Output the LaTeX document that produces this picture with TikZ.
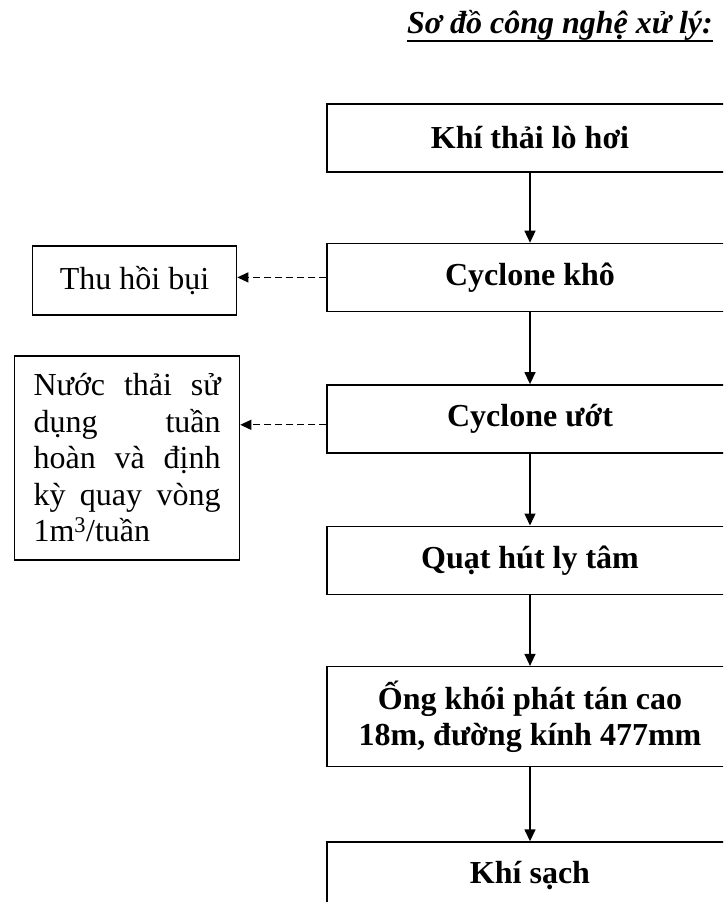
\documentclass[tikz,border=0pt]{standalone}
\usepackage{fontspec}
\setmainfont{Liberation Serif}
\usetikzlibrary{arrows.meta,positioning}

\begin{document}
\begin{tikzpicture}[x=1pt,y=1pt,
  font=\fontsize{32}{36.5}\selectfont,
  stage/.style={draw,line width=1.4pt,minimum width=406pt,minimum height=68pt,align=center,inner sep=4pt,font=\fontsize{32}{36}\selectfont\bfseries},
  side/.style={draw,line width=1.4pt,inner sep=4pt},
  arr/.style={-{Triangle[length=12pt,width=11pt]},line width=1.4pt},
  darr/.style={-{Triangle[length=11pt,width=10pt]},line width=1.2pt,dash pattern=on 7pt off 4pt}]
\clip (0,0) rectangle (723,-902);
\node[inner sep=0pt,font=\fontsize{32}{36}\selectfont\bfseries\itshape,anchor=base east] (title) at (713,-33) {Sơ đồ công nghệ xử lý:};
\draw[line width=2.5pt] ([yshift=-8pt]title.base west) -- ([yshift=-8pt]title.base east);
% main line
\node[stage] (khi) at (530,-138) {Khí thải lò hơi};
\node[stage,below=70pt of khi] (cyc1) {Cyclone khô};
\node[stage,below=72pt of cyc1] (cyc2) {Cyclone ướt};
\node[stage,below=72pt of cyc2] (quat) {Quạt hút ly tâm};
\node[stage,below=71pt of quat,minimum height=100pt] (ong) {Ống khói phát tán cao\\18m, đường kính 477mm};
\node[stage,below=74pt of ong] (sach) {Khí sạch};
% side outputs
\node[side,minimum width=204pt,minimum height=69pt,left=89pt of cyc1,yshift=-3pt] (bui) {Thu hồi bụi};
\node[side,text width=187pt,inner xsep=19pt,minimum height=204pt,align=left,
  left=86pt of cyc2.north west,anchor=north east,yshift=29pt] (nuoc)
  {Nước\hfill thải\hfill sử\\dụng\hfill tuần\\hoàn\hfill và\hfill định\\kỳ\hfill quay\hfill vòng\\1m\textsuperscript{3}/tuần};
\draw[arr] (khi) -- (cyc1); \draw[arr] (cyc1) -- (cyc2); \draw[arr] (cyc2) -- (quat);
\draw[arr] (quat) -- (ong); \draw[arr] (ong) -- (sach);
\draw[darr] (cyc1.west) -- (cyc1.west -| bui.east);
\draw[darr] ([yshift=-6pt]cyc2.west) -- ([yshift=-6pt]cyc2.west -| nuoc.east);
\end{tikzpicture}
\end{document}
